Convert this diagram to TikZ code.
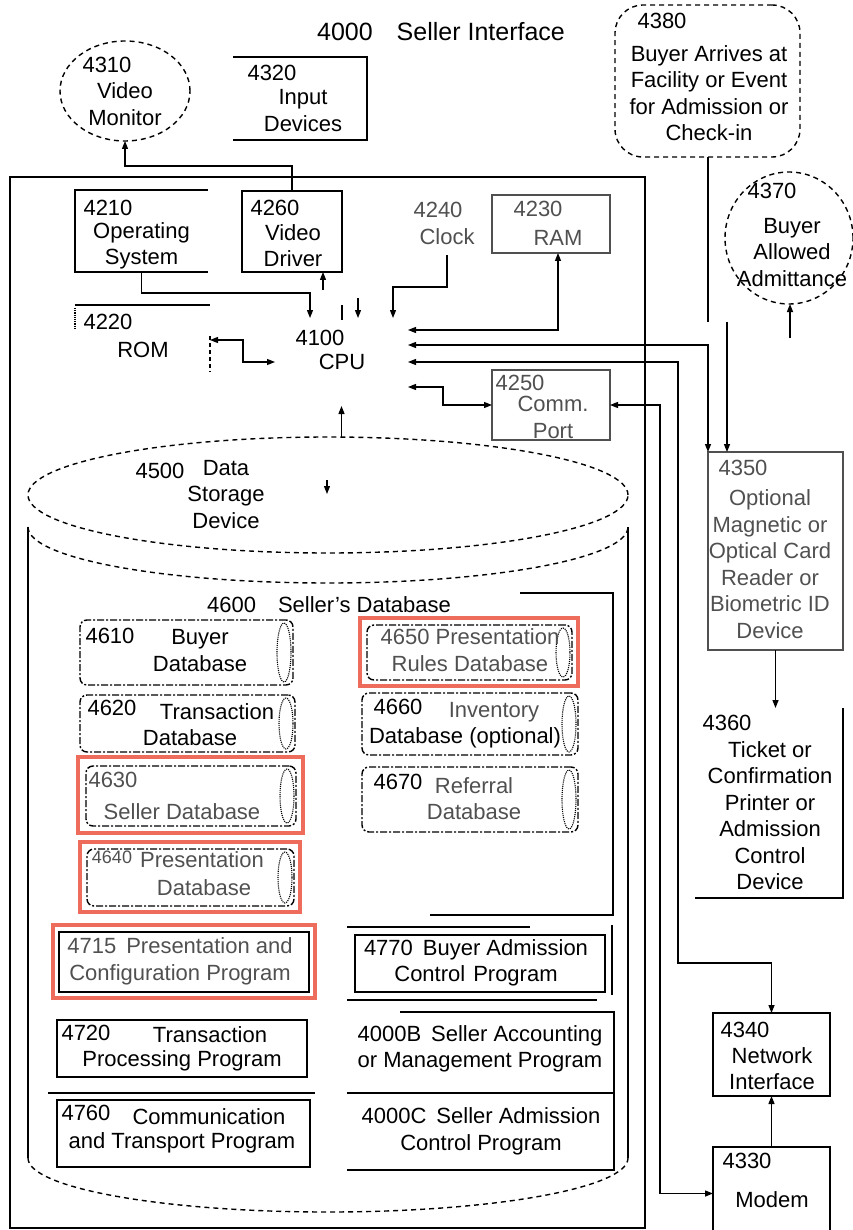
\documentclass[tikz,border=0pt]{standalone}
\usepackage{fontspec}
\setmainfont{Liberation Sans}
\usetikzlibrary{arrows.meta,shapes.geometric,calc}
\definecolor{redframe}{RGB}{238,108,92}
\definecolor{fade}{RGB}{80,80,80}
\newcommand{\DBcyl}[5]{%
  \node[dbbox, minimum width={#4-#2}, minimum height={#5-#3}] (#1) at ({(#2+#4)/2},{(#3+#5)/2}) {};
  \draw[line width=1.1pt, densely dotted] ({#4-9},{(#3+#5)/2}) ellipse [x radius=7, y radius={(#5-#3)/2-3}];
}
\begin{document}
\begin{tikzpicture}[x=1pt,y=-1pt,
  every node/.style={inner sep=0pt, outer sep=0pt},
  font=\fontsize{22}{26.5}\selectfont,
  txt/.style={align=center},
  ftxt/.style={align=center, text=fade},
  ghost/.style={rectangle, inner sep=0pt},
  box/.style={draw, rectangle, line width=1.5pt},
  fbox/.style={draw=fade, rectangle, line width=1.4pt},
  conn/.style={line width=1.3pt},
  arr/.style={conn, -{Triangle[length=8pt,width=6pt]}},
  darr/.style={conn, {Triangle[length=8pt,width=6pt]}-{Triangle[length=8pt,width=6pt]}},
  dsh/.style={line width=1.4pt, dash pattern=on 5pt off 4pt},
  redf/.style={draw=redframe, line width=4pt, rectangle},
  dbbox/.style={draw, rectangle, line width=1.4pt, rounded corners=7pt, dash pattern=on 7pt off 2pt on 2pt off 2pt}
]
\useasboundingbox (0,0) rectangle (852,1230);

% ---------- title ----------
\node[font=\fontsize{25}{30}\selectfont] (t4000) at (441,32) {4000\hspace{24pt}Seller Interface};

% ---------- outer computer box ----------
\draw[line width=1.5pt] (10,177) rectangle (645,1228);

% ---------- 4310 video monitor ----------
\node[ellipse, dsh, draw, minimum width=130, minimum height=100] (n4310) at (125,91) {};
\node (t4310a) at (107,65) {4310};
\node[txt] (t4310b) at (125,104) {Video\\Monitor};

% ---------- 4320 input devices ----------
\node[ghost, minimum width=134, minimum height=83] (n4320) at (300,98.5) {};
\draw[line width=1.5pt] (n4320.north west) -- (n4320.north east) -- (n4320.south east) -- (n4320.south west);
\node (t4320a) at (272,73) {4320};
\node[txt] (t4320b) at (303,110.5) {Input\\Devices};

% ---------- 4210 operating system ----------
\node[ghost, minimum width=133, minimum height=82] (n4210) at (141.5,231) {};
\draw[line width=1.5pt] (n4210.north east) -- (n4210.north west) -- (n4210.south west) -- (n4210.south east);
\node (t4210a) at (108,208) {4210};
\node[txt] (t4210b) at (141.5,246) {Operating\\System};

% ---------- 4260 video driver ----------
\node[box, minimum width=100, minimum height=81] (n4260) at (292,231.5) {};
\node (t4260a) at (275,208) {4260};
\node[txt] (t4260b) at (293,245.5) {Video\\Driver};

% ---------- 4220 ROM ----------
\node[ghost, minimum width=135, minimum height=70] (n4220) at (142.5,340) {};
\draw[line width=1.5pt] (n4220.north west) -- (n4220.north east);
\draw[line width=1.2pt, densely dotted] (75,308) -- (75,330);
\draw[line width=1.2pt, dash pattern=on 4pt off 3pt] (210,336) -- (210,372);
\node (t4220a) at (108,322) {4220};
\node (t4220b) at (143,350) {ROM};

% ---------- 4100 CPU ----------
\node[ghost, minimum width=133, minimum height=88] (n4100) at (341.5,362) {};
\node (t4100a) at (320,338) {4100};
\node (t4100b) at (342,362) {CPU};

% ---------- 4240 clock, 4230 RAM ----------
\node[ghost, minimum width=70, minimum height=60] (n4240) at (447,225) {};
\node[text=fade] (t4240a) at (438,210) {4240};
\node[text=fade] (t4240b) at (447,237) {Clock};
\node[fbox, minimum width=118, minimum height=58] (n4230) at (551,224) {};
\node[text=fade] (t4230a) at (538,209) {4230};
\node[text=fade] (t4230b) at (558,238) {RAM};

% ---------- 4250 comm port ----------
\node[fbox, minimum width=118, minimum height=70] (n4250) at (551,405) {};
\node[text=fade] (t4250a) at (520,383) {4250};
\node[ftxt] (t4250b) at (553,417.5) {Comm.\\Port};

% ---------- 4500 data storage device (cylinder) ----------
\node[ellipse, draw, dsh, minimum width=600, minimum height=116] (n4500) at (328,495) {};
\draw[dsh] (28,527) arc[start angle=180, end angle=0, x radius=300, y radius=56];
\draw[line width=1.4pt] (28,527) -- (28,1158);
\draw[line width=1.4pt] (628,527) -- (628,1158);
\draw[dsh] (28,1158) arc[start angle=180, end angle=0, x radius=300, y radius=54];
\node (t4500a) at (160,471) {4500};
\node[txt] (t4500b) at (226,494.5) {Data\\Storage\\Device};

% ---------- 4600 seller's database ----------
\draw[line width=1.3pt] (520,593) -- (613,593) -- (613,915) -- (430,915);
\node (t4600) at (329,605) {4600\hspace{22pt}Seller's Database};

% red frames
\node[redf, minimum width=225, minimum height=76] (r4630) at (190.5,795) {};
\node[redf, minimum width=220, minimum height=70] (r4640) at (190,877) {};
\node[redf, minimum width=218, minimum height=68] (r4650) at (469,652) {};
\node[redf, minimum width=262, minimum height=73] (r4715) at (184,961.5) {};

% databases
\DBcyl{n4610}{80}{620}{293}{685}
\DBcyl{n4620}{80}{695}{295}{752}
\DBcyl{n4630}{86}{766}{296}{826}
\DBcyl{n4640}{87}{849}{294}{906}
\DBcyl{n4650}{367}{625}{572}{680}
\DBcyl{n4660}{362}{693}{578}{755}
\DBcyl{n4670}{362}{767}{578}{832}

\node (t4610a) at (110,636) {4610};
\node[txt] (t4610b) at (200,650.5) {Buyer\\Database};
\node (t4620a) at (112,708) {4620};
\node (t4620b) at (217,712) {Transaction};
\node (t4620c) at (190,738) {Database};
\node[text=fade] (t4630a) at (113,780) {4630};
\node[text=fade] (t4630b) at (182,812) {Seller Database};
\node[text=fade, font=\fontsize{18}{22}\selectfont] (t4640a) at (112,857) {4640};
\node[text=fade] (t4640b) at (202,860) {Presentation};
\node[text=fade] (t4640c) at (204,888) {Database};
\node[ftxt] (t4650) at (470,650) {4650 Presentation\\Rules Database};
\node (t4660a) at (398,707) {4660};
\node[text=fade] (t4660b) at (494,712) {Inventory};
\node (t4660c) at (465,738) {Database (optional)};
\node (t4670a) at (398,782) {4670};
\node[ftxt] (t4670b) at (474,798.5) {Referral\\Database};

% ---------- programs ----------
\node[box, line width=1.2pt, minimum width=250, minimum height=60] (n4715) at (184,962) {};
\node[ftxt] (t4715) at (180,961.5) {4715\hspace{10pt}Presentation and\\Configuration Program};

\node[box, minimum width=250, minimum height=57] (n4720) at (182,1048.5) {};
\node (t4720a) at (86,1033) {4720};
\node (t4720b) at (210,1035) {Transaction};
\node (t4720c) at (182,1061) {Processing Program};
\draw[line width=1.4pt] (48,1093) -- (315,1093);

\node[box, minimum width=253, minimum height=67] (n4760) at (183.5,1133.5) {};
\node (t4760a) at (86,1113) {4760};
\node (t4760b) at (209,1117) {Communication};
\node (t4760c) at (182,1143) {and Transport Program};

\node[box, minimum width=250, minimum height=57] (n4770) at (480,963.5) {};
\draw[line width=1.4pt] (612,925) -- (612,995);
\draw[line width=1.4pt] (347,927) -- (530,927);
\draw[line width=1.4pt] (347,1000) -- (597,1000);
\node[txt] (t4770) at (476,963) {4770\hspace{10pt}Buyer Admission\\Control\hspace{8pt}Program};

\node[ghost, minimum width=267, minimum height=81] (n4000B) at (480.5,1052.5) {};
\draw[line width=1.4pt] (400,1012) -- (n4000B.north east) -- (n4000B.south east) -- (n4000B.south west);
\node[txt] (t4000B) at (480,1049) {4000B\hspace{10pt}Seller Accounting\\or Management Program};

\node[ghost, minimum width=267, minimum height=77] (n4000C) at (480.5,1131.5) {};
\draw[line width=1.4pt] (n4000C.north east) -- (n4000C.south east) -- (n4000C.south west);
\node[txt] (t4000C) at (481,1131.5) {4000C\hspace{10pt}Seller Admission\\Control Program};

% ---------- right column peripherals ----------
\node[draw, dsh, rectangle, rounded corners=28pt, minimum width=185, minimum height=152] (n4380) at (707.5,81) {};
\node (t4380a) at (662,21) {4380};
\node[txt] (t4380b) at (709,93) {Buyer Arrives at\\Facility or Event\\for Admission or\\Check-in};

\node[ellipse, draw, dsh, minimum width=128, minimum height=132] (n4370) at (789,238) {};
\node (t4370a) at (772,191) {4370};
\node[txt] (t4370b) at (792,252.5) {Buyer\\Allowed\\Admittance};

\node[fbox, minimum width=135, minimum height=198] (n4350) at (775.5,551) {};
\node[text=fade] (t4350a) at (743,468) {4350};
\node[ftxt] (t4350b) at (770,564) {Optional\\Magnetic or\\Optical Card\\Reader or\\Biometric ID\\Device};

\node[ghost, minimum width=148, minimum height=190] (n4360) at (769,803) {};
\draw[line width=1.5pt] (n4360.north east) -- (n4360.south east) -- (n4360.south west);
\node (t4360a) at (727,723) {4360};
\node[txt] (t4360b) at (770,815.5) {Ticket or\\Confirmation\\Printer or\\Admission\\Control\\Device};

\node[box, minimum width=117, minimum height=83] (n4340) at (771.5,1054.5) {};
\node (t4340a) at (745,1030) {4340};
\node[txt] (t4340b) at (772,1068.5) {Network\\Interface};

\node[box, minimum width=117, minimum height=93] (n4330) at (771.5,1193.5) {};
\node (t4330a) at (747,1161) {4330};
\node (t4330b) at (772,1200) {Modem};

% ---------- coordinates for connector ends ----------
\coordinate (vdin) at (323,290);
\coordinate (osin) at (310,318);
\coordinate (tk1) at (358,298);
\coordinate (cpuR1) at (408,330);
\coordinate (cpuR2) at (408,345);
\coordinate (cpuR3) at (408,362);
\coordinate (cpuR4) at (408,387);
\coordinate (ramin) at (558,253);
\coordinate (rd1) at (708,452);
\coordinate (b1) at (708,157);
\coordinate (b2) at (708,322);
\coordinate (b3) at (727,322);
\coordinate (b4) at (727,452);
\coordinate (adm) at (790,338);
\coordinate (dsa) at (327,480);
\coordinate (bar1) at (342,305);

% ---------- connectors ----------
\draw[arr] (n4260.north) |- (125,166) -- (n4310.south);
\draw[arr] (vdin) -- (vdin |- n4260.south);
\draw[arr] (n4210.south) |- (310,293) -- (osin);
\draw[darr] (n4220.east) -- (243,340) |- (n4100.west);
\draw[arr] (n4240.south) -- (447,287) -| (393,318);
\draw[arr] (tk1) -- (tk1 |- n4100.north);
\draw[conn] (bar1) -- ++(0,15);
\draw[darr] (cpuR1) -| (ramin);
\draw[darr] (cpuR2) -| (rd1);
\draw[conn] (b1) -- (b2);
\draw[arr] (b3) -- (b4);
\draw[darr] (cpuR3) -| (678,963) -| (n4340.north);
\draw[darr] (cpuR4) -- (443,387) |- (n4250.west);
\draw[darr] (n4250.east) -- (660,405) |- (n4330.west);
\draw[arr] (n4330.north) -- (n4340.south);
\draw[arr] (n4350.south) -- (n4350.south |- n4360.north);
\draw[arr] (adm) -- (adm |- n4370.south);
\draw[arr] (n4100.south |- n4500.north) -- (n4100.south);
\draw[arr] (dsa) -- ++(0,14);
\end{tikzpicture}
\end{document}
